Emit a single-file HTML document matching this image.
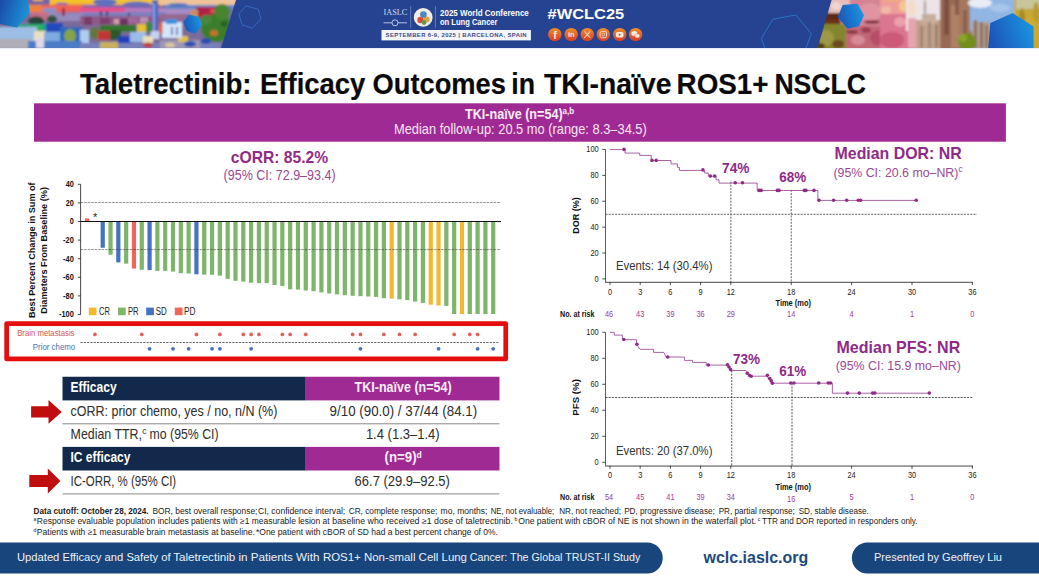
<!DOCTYPE html>
<html lang="en">
<head>
<meta charset="utf-8">
<title>Taletrectinib: Efficacy Outcomes in TKI-naïve ROS1+ NSCLC</title>
<style>
html,body{margin:0;padding:0;background:#fff;}
body{width:1039px;height:585px;overflow:hidden;font-family:'Liberation Sans', Arial, sans-serif;}
svg{display:block;font-family:'Liberation Sans', Arial, sans-serif;}
</style>
</head>
<body>
<svg width="1039" height="585" viewBox="0 0 1039 585">
<defs><linearGradient id="hexg" x1="0" y1="0" x2="1" y2="0.3"><stop offset="0" stop-color="#1a43a4"/><stop offset="1" stop-color="#1b92d6"/></linearGradient><linearGradient id="hexg2" x1="0" y1="0.6" x2="1" y2="0.3"><stop offset="0" stop-color="#1c54b8"/><stop offset="1" stop-color="#1a97e2"/></linearGradient><linearGradient id="icong" x1="0" y1="0" x2="0" y2="1"><stop offset="0" stop-color="#f0902c"/><stop offset="1" stop-color="#d43a2a"/></linearGradient><clipPath id="clipL"><polygon points="0,0 236,0 221,48 0,48"/></clipPath><clipPath id="clipR"><polygon points="831.6,0 1039,0 1039,48 817.6,48"/></clipPath><filter id="blur2" filterUnits="userSpaceOnUse" x="-20" y="-20" width="1100" height="100"><feGaussianBlur stdDeviation="1.3"/></filter></defs>
<rect x="0" y="0" width="1039" height="48.1" fill="#254391"/>
<g clip-path="url(#clipL)"><g filter="url(#blur2)">
<rect x="-5" y="-5" width="250" height="60" fill="#7c6a98"/>
<rect x="25" y="-5" width="30" height="8" fill="#7a62a8"/>
<rect x="33" y="-3" width="10" height="4" fill="#e8b040"/>
<rect x="50" y="-5" width="112" height="10" fill="#f5c428"/>
<rect x="52" y="3" width="110" height="3" fill="#f0a838"/>
<rect x="160" y="-5" width="80" height="10" fill="#eec39a"/>
<ellipse cx="105" cy="2" rx="12" ry="3.5" fill="#5a72c0"/>
<ellipse cx="137" cy="4.5" rx="14" ry="3" fill="#5f6fbc"/>
<rect x="80" y="5" width="80" height="2.5" fill="#7466b4"/>
<ellipse cx="62" cy="4" rx="6" ry="1.6" fill="#8a6ab0"/>
<rect x="165" y="5" width="70" height="4" fill="#6484c8"/>
<ellipse cx="178" cy="5" rx="10" ry="2" fill="#5676c0"/>
<rect x="28" y="5" width="55" height="7" fill="#ef6458"/>
<rect x="28" y="5" width="14" height="7" fill="#f08040"/>
<rect x="80" y="7.5" width="50" height="4.5" fill="#e8508c"/>
<rect x="125" y="8" width="40" height="4" fill="#b478be"/>
<rect x="160" y="9" width="40" height="5" fill="#a98cc6"/>
<rect x="80" y="12" width="85" height="4" fill="#7c80c0"/>
<rect x="43" y="8" width="13" height="6" fill="#8492c8"/>
<rect x="100" y="11" width="2" height="5" fill="#4a3a70"/>
<rect x="106" y="11" width="2" height="5" fill="#4a3a70"/>
<rect x="128" y="13" width="2" height="3" fill="#4a3a70"/>
<rect x="30" y="12" width="20" height="8" fill="#c47088"/>
<rect x="48" y="13" width="35" height="8" fill="#948abc"/>
<rect x="62" y="8" width="3" height="8" fill="#a03048"/>
<rect x="80" y="16" width="85" height="9" fill="#905a88"/>
<rect x="100" y="18" width="10" height="6" fill="#7c3c70"/>
<rect x="128" y="17" width="10" height="6" fill="#a06898"/>
<rect x="160" y="14" width="25" height="6" fill="#96688e"/>
<rect x="84" y="17" width="8" height="8" fill="#7a3a68"/>
<rect x="114" y="19" width="5" height="5" fill="#d0a0a8"/>
<rect x="120" y="19" width="8" height="6" fill="#6a3060"/>
<rect x="140" y="17" width="8" height="6" fill="#b890b0"/>
<rect x="196" y="7" width="30" height="11" fill="#b02444"/>
<rect x="190" y="10" width="8" height="8" fill="#c89060"/>
<rect x="210" y="9" width="8" height="4" fill="#d84858"/>
<rect x="152" y="0" width="6" height="34" fill="#4a64c0"/>
<rect x="150.5" y="31" width="9" height="8" fill="#c4d2f0"/>
<rect x="153" y="3" width="2" height="28" fill="#8aa0e0"/>
<ellipse cx="36" cy="21" rx="8" ry="4.5" fill="#26443a"/>
<ellipse cx="52" cy="19" rx="5" ry="3.5" fill="#2a5238"/>
<rect x="100" y="25" width="36" height="7" fill="#34742f"/>
<rect x="137" y="24" width="9" height="8" fill="#e6c034"/>
<rect x="146" y="22" width="6" height="10" fill="#46863c"/>
<ellipse cx="95" cy="33" rx="5" ry="6" fill="#62783a"/>
<rect x="110" y="30" width="11" height="10" fill="#2a582a"/>
<rect x="98" y="31" width="12" height="9" fill="#c23434"/>
<ellipse cx="217" cy="28" rx="16" ry="14" fill="#3a7e2c"/>
<ellipse cx="206" cy="20" rx="6" ry="5" fill="#46863a"/>
<ellipse cx="222" cy="12" rx="8" ry="8" fill="#46862e"/>
<ellipse cx="214" cy="33" rx="4" ry="3" fill="#c87030"/>
<ellipse cx="224" cy="24" rx="3" ry="3" fill="#2a6020"/>
<rect x="14" y="24" width="32" height="8" fill="#1ea08a"/>
<rect x="28" y="25" width="14" height="6" fill="#34b058"/>
<rect x="46" y="23" width="17" height="9" fill="#2048bc"/>
<rect x="-5" y="27" width="42" height="14" fill="#9cbee6"/>
<rect x="34" y="31" width="12" height="12" fill="#e8e0c0"/>
<rect x="44" y="32" width="18" height="16" fill="#7eaae0"/>
<rect x="60" y="27" width="22" height="21" fill="#2f68be"/>
<ellipse cx="70" cy="36" rx="6" ry="7" fill="#86a444"/>
<rect x="80" y="30" width="9" height="14" fill="#b0ccee"/>
<rect x="-5" y="39" width="36" height="10" fill="#b0aeb6"/>
<rect x="28" y="41" width="54" height="8" fill="#4c7cc6"/>
<rect x="36" y="38" width="8" height="10" fill="#e0d8e8"/>
<rect x="118" y="36" width="16" height="13" fill="#2040bc"/>
<rect x="130" y="32" width="16" height="10" fill="#9cbce8"/>
<rect x="143" y="36" width="10" height="8" fill="#e8e0b8"/>
<rect x="80" y="43" width="140" height="6" fill="#7880bc"/>
<rect x="100" y="42" width="18" height="7" fill="#c8b060"/>
<rect x="160" y="40" width="40" height="9" fill="#9c98b4"/>
<ellipse cx="206" cy="41" rx="5" ry="3" fill="#2c4cb4"/>
<rect x="178" y="36" width="10" height="6" fill="#e0c048"/>
<ellipse cx="190" cy="44" rx="6" ry="3" fill="#3050b0"/>
<ellipse cx="170" cy="45" rx="5" ry="2.5" fill="#d8c8a0"/>
<ellipse cx="148" cy="45" rx="5" ry="2.5" fill="#c04040"/>
<rect x="162" y="22" width="20" height="16" fill="#d6e4f8"/>
<rect x="166" y="19" width="11" height="5" fill="#3492e0"/>
<rect x="159" y="23" width="3.5" height="10" fill="#e06838"/>
<rect x="171" y="27" width="2" height="8" fill="#6080c0"/>
<rect x="176" y="27" width="2" height="8" fill="#6080c0"/>
</g></g>
<polygon points="-2,-2 27,-2 29.7,9.5 29,14 17,27.6 -2,23.6" fill="url(#hexg)"/>
<polygon points="189.4,15 198.7,17.3 201.8,24.8 195.2,33.5 186.8,30.6 183.7,21.9" fill="url(#hexg2)" stroke="url(#hexg2)" stroke-width="0.8" stroke-linejoin="round"/>
<polygon points="246,5.8 258.2,9.2 261,19 252.4,28.3 242,24.8 238.9,13.9" fill="none" stroke="#3a72c8" stroke-width="0.8" stroke-linejoin="round"/>
<g clip-path="url(#clipR)"><g filter="url(#blur2)">
<rect x="810" y="-5" width="240" height="60" fill="#d48294"/>
<rect x="828" y="-5" width="22" height="18" fill="#e6bcbc"/>
<ellipse cx="836" cy="6" rx="5" ry="4" fill="#f0d4d0"/>
<rect x="822" y="13" width="18" height="11" fill="#5c2a14"/>
<ellipse cx="832" cy="22" rx="9" ry="3" fill="#6a3018"/>
<rect x="814" y="24" width="32" height="26" fill="#84862f"/>
<ellipse cx="826" cy="38" rx="8" ry="8" fill="#9c9844"/>
<ellipse cx="838" cy="44" rx="6" ry="4" fill="#6a4a20"/>
<ellipse cx="820" cy="46" rx="5" ry="3" fill="#5a3a18"/>
<rect x="846" y="26" width="40" height="24" fill="#c26676"/>
<ellipse cx="870" cy="12" rx="12" ry="9" fill="#e094a2"/>
<ellipse cx="880" cy="38" rx="10" ry="8" fill="#b64e66"/>
<ellipse cx="858" cy="40" rx="7" ry="5" fill="#d88a98"/>
<ellipse cx="866" cy="30" rx="5" ry="3" fill="#9c3c52"/>
<ellipse cx="872" cy="22" rx="8" ry="2" fill="#8a3a48"/>
<ellipse cx="852" cy="32" rx="6" ry="1.6" fill="#7a3040"/>
<ellipse cx="894" cy="30" rx="8" ry="1.8" fill="#a04058"/>
<rect x="880" y="-5" width="28" height="20" fill="#ee9e98"/>
<rect x="884" y="-5" width="16" height="6" fill="#f0b070"/>
<rect x="880" y="14" width="30" height="36" fill="#da768e"/>
<ellipse cx="892" cy="40" rx="12" ry="8" fill="#ca5a76"/>
<ellipse cx="900" cy="22" rx="6" ry="5" fill="#eca0aa"/>
<ellipse cx="886" cy="10" rx="5" ry="4" fill="#f4b8a8"/>
<ellipse cx="904" cy="6" rx="5" ry="6" fill="#f2c690"/>
<rect x="906" y="-5" width="36" height="36" fill="#ece4e6"/>
<rect x="908" y="18" width="8" height="30" fill="#e6a4ae"/>
<ellipse cx="912" cy="8" rx="4" ry="8" fill="#f4dcc8"/>
<rect x="916" y="20" width="26" height="30" fill="#c2a28c"/>
<rect x="922" y="14" width="14" height="10" fill="#c8ae9c"/>
<rect x="920" y="26" width="3" height="22" fill="#a08470"/>
<rect x="928" y="22" width="3" height="26" fill="#a48874"/>
<rect x="935" y="24" width="3" height="24" fill="#9c806c"/>
<ellipse cx="925" cy="8" rx="1.2" ry="9" fill="#b0a0a0"/>
<rect x="940" y="-5" width="20" height="55" fill="#986a54"/>
<rect x="944" y="-5" width="5" height="40" fill="#7c5040"/>
<rect x="951" y="5" width="8" height="43" fill="#ae8266"/>
<rect x="955" y="-5" width="4" height="20" fill="#8a5c48"/>
<rect x="959" y="-5" width="13" height="55" fill="#a67860"/>
<rect x="963" y="10" width="4" height="38" fill="#8c604c"/>
<rect x="970" y="-5" width="50" height="36" fill="#92b6e4"/>
<ellipse cx="980" cy="3" rx="12" ry="5" fill="#e8ecf4"/>
<ellipse cx="1000" cy="8" rx="10" ry="4" fill="#a8c6ea"/>
<rect x="972" y="22" width="18" height="28" fill="#aea094"/>
<rect x="974" y="20" width="3" height="28" fill="#92705e"/>
<rect x="980" y="22" width="3" height="26" fill="#92705e"/>
<rect x="985" y="25" width="3" height="23" fill="#987664"/>
<ellipse cx="967" cy="42" rx="9" ry="9" fill="#728e1c"/>
<ellipse cx="963" cy="38" rx="4" ry="4" fill="#8aa62c"/>
<rect x="1014" y="-5" width="30" height="60" fill="#c6a836"/>
<rect x="1016" y="-5" width="24" height="14" fill="#c8c49c"/>
<ellipse cx="1030" cy="30" rx="8" ry="14" fill="#d0a830"/>
<ellipse cx="1022" cy="20" rx="3" ry="12" fill="#a88a28"/>
<ellipse cx="1036" cy="12" rx="3" ry="10" fill="#b89a30"/>
</g></g>
<polygon points="842.7,4.9 857.4,3.7 864,15.2 859,26.3 847.6,28.7 837.7,17.2" fill="url(#hexg2)"/>
<polygon points="1012.7,13.0 1033.6,26.6 1033.6,48.1 988.2,48.1 990.3,23.0" fill="url(#hexg2)"/>
<polyline points="765,48 761.3,38.5 772.8,19.2 795.9,15 811.3,33.7 806,48" fill="none" stroke="#2f86dc" stroke-width="0.7"/>
<text x="383.50" y="15.40" font-size="7.6" fill="#d5dbee" textLength="23.90" lengthAdjust="spacingAndGlyphs" font-family="'Liberation Serif', serif">IASLC</text>
<line x1="383.5" y1="22.8" x2="407" y2="22.8" stroke="#c9d2ea" stroke-width="0.9"/>
<circle cx="395" cy="22.8" r="3" fill="#254391" stroke="#c9d2ea" stroke-width="0.9"/>
<line x1="410.7" y1="6.2" x2="410.7" y2="27.7" stroke="#8fa0d0" stroke-width="0.6"/>
<circle cx="423.2" cy="17.4" r="9.4" fill="#f3ece6"/>
<circle cx="420.5" cy="20" r="3.2" fill="#d8503a"/><circle cx="426.5" cy="19.5" r="3" fill="#d9a63a"/><circle cx="423.4" cy="14.5" r="3.3" fill="#4f86c4"/><circle cx="424" cy="22.5" r="2.4" fill="#5a9a58"/>
<line x1="435.4" y1="6.2" x2="435.4" y2="27.7" stroke="#8fa0d0" stroke-width="0.6"/>
<text x="440.00" y="15.90" font-size="8.2" fill="#fff" font-weight="bold" textLength="88.80" lengthAdjust="spacingAndGlyphs">2025 World Conference</text>
<text x="440.00" y="24.70" font-size="8.2" fill="#fff" font-weight="bold" textLength="57.50" lengthAdjust="spacingAndGlyphs">on Lung Cancer</text>
<rect x="381.5" y="30" width="149.4" height="10.4" fill="#f4f5f9"/>
<text x="385.6" y="37.4" font-size="5.9" font-weight="bold" fill="#3a4c86" textLength="141" lengthAdjust="spacing">SEPTEMBER 6-9, 2025 | BARCELONA, SPAIN</text>
<text x="547.60" y="19.20" font-size="14.6" fill="#fff" font-weight="bold" textLength="76.60" lengthAdjust="spacingAndGlyphs">#WCLC25</text>
<circle cx="554.8" cy="34.6" r="6.7" fill="url(#icong)"/>
<circle cx="571.2" cy="34.6" r="6.7" fill="url(#icong)"/>
<circle cx="587.3" cy="34.6" r="6.7" fill="url(#icong)"/>
<circle cx="603.3" cy="34.6" r="6.7" fill="url(#icong)"/>
<circle cx="619.7" cy="34.6" r="6.7" fill="url(#icong)"/>
<circle cx="635.6" cy="34.6" r="6.7" fill="url(#icong)"/>
<text x="554.90" y="38.60" font-size="10.5" fill="#fbe9df" font-weight="bold" text-anchor="middle">f</text>
<text x="571.20" y="37.30" font-size="7.4" fill="#fbe9df" font-weight="bold" text-anchor="middle">in</text>
<path d="M584.4 31.4 L590.2 37.8 M590.2 31.4 L584.4 37.8" stroke="#f6cdb6" stroke-width="1.1" fill="none"/>
<rect x="600.1" y="31.4" width="6.4" height="6.4" rx="1.6" fill="none" stroke="#f8d6c3" stroke-width="1"/><circle cx="603.3" cy="34.6" r="1.4" fill="none" stroke="#f8d6c3" stroke-width="0.8"/>
<rect x="615.9" y="32" width="7.6" height="5.4" rx="1.6" fill="#fbe9df"/><path d="M618.8 33.4 L621.2 34.7 L618.8 36 Z" fill="#d9482b"/>
<ellipse cx="634.3" cy="33.6" rx="3" ry="2.5" fill="#fbe9df"/><ellipse cx="637.3" cy="35.9" rx="2.6" ry="2.1" fill="#fbe9df" stroke="#de5a2b" stroke-width="0.4"/>
<text y="94.3" font-size="30.3" font-weight="bold" fill="#0a0a0a" stroke="#0a0a0a" stroke-width="0.2"><tspan x="79.9" textLength="171.7" lengthAdjust="spacingAndGlyphs">Taletrectinib:</tspan> <tspan x="260.0" textLength="105.4" lengthAdjust="spacingAndGlyphs">Efficacy</tspan> <tspan x="372.6" textLength="133.2" lengthAdjust="spacingAndGlyphs">Outcomes</tspan> <tspan x="511.2" textLength="23.8" lengthAdjust="spacingAndGlyphs">in</tspan> <tspan x="544.0" textLength="127.4" lengthAdjust="spacingAndGlyphs">TKI-naïve</tspan> <tspan x="676.6" textLength="92.0" lengthAdjust="spacingAndGlyphs">ROS1+</tspan> <tspan x="774.4" textLength="91.6" lengthAdjust="spacingAndGlyphs">NSCLC</tspan></text>
<rect x="34" y="103.3" width="971.9" height="38.4" fill="#A02A93"/>
<text x="465.0" y="118.7" font-size="13.9" font-weight="bold" fill="#fbeefa"><tspan textLength="97.6" lengthAdjust="spacingAndGlyphs">TKI-naïve (n=54)</tspan><tspan dy="-4.4" font-size="8.3" textLength="11.6" lengthAdjust="spacingAndGlyphs">a,b</tspan></text>
<text x="394.00" y="134.40" font-size="14.1" fill="#f7e6f5" textLength="252.80" lengthAdjust="spacingAndGlyphs">Median follow-up: 20.5 mo (range: 8.3–34.5)</text>
<text x="230.80" y="162.65" font-size="16.9" fill="#8F2A88" font-weight="bold" textLength="97.40" lengthAdjust="spacingAndGlyphs">cORR: 85.2%</text>
<text x="223.60" y="180.30" font-size="14.4" fill="#9A4A96" textLength="112.00" lengthAdjust="spacingAndGlyphs">(95% CI: 72.9–93.4)</text>
<text transform="translate(34.6,250.2) rotate(-90)" text-anchor="middle" font-size="9.3" font-weight="bold" fill="#111" textLength="135.7" lengthAdjust="spacingAndGlyphs">Best Percent Change in Sum of</text>
<text transform="translate(47.4,250.4) rotate(-90)" text-anchor="middle" font-size="9.3" font-weight="bold" fill="#111" textLength="126.8" lengthAdjust="spacingAndGlyphs">Diameters From Baseline (%)</text>
<line x1="77.8" y1="184.30" x2="80.6" y2="184.30" stroke="#1a1a1a" stroke-width="0.8"/>
<text x="73.80" y="187.20" font-size="8.3" fill="#111" font-weight="bold" text-anchor="end" textLength="8.10" lengthAdjust="spacingAndGlyphs">40</text>
<line x1="77.8" y1="202.90" x2="80.6" y2="202.90" stroke="#1a1a1a" stroke-width="0.8"/>
<text x="73.80" y="205.80" font-size="8.3" fill="#111" font-weight="bold" text-anchor="end" textLength="8.10" lengthAdjust="spacingAndGlyphs">20</text>
<line x1="77.8" y1="221.50" x2="80.6" y2="221.50" stroke="#1a1a1a" stroke-width="0.8"/>
<text x="73.80" y="224.40" font-size="8.3" fill="#111" font-weight="bold" text-anchor="end" textLength="4.05" lengthAdjust="spacingAndGlyphs">0</text>
<line x1="77.8" y1="240.10" x2="80.6" y2="240.10" stroke="#1a1a1a" stroke-width="0.8"/>
<text x="73.80" y="243.00" font-size="8.3" fill="#111" font-weight="bold" text-anchor="end" textLength="10.70" lengthAdjust="spacingAndGlyphs">-20</text>
<line x1="77.8" y1="258.70" x2="80.6" y2="258.70" stroke="#1a1a1a" stroke-width="0.8"/>
<text x="73.80" y="261.60" font-size="8.3" fill="#111" font-weight="bold" text-anchor="end" textLength="10.70" lengthAdjust="spacingAndGlyphs">-40</text>
<line x1="77.8" y1="277.30" x2="80.6" y2="277.30" stroke="#1a1a1a" stroke-width="0.8"/>
<text x="73.80" y="280.20" font-size="8.3" fill="#111" font-weight="bold" text-anchor="end" textLength="10.70" lengthAdjust="spacingAndGlyphs">-60</text>
<line x1="77.8" y1="295.90" x2="80.6" y2="295.90" stroke="#1a1a1a" stroke-width="0.8"/>
<text x="73.80" y="298.80" font-size="8.3" fill="#111" font-weight="bold" text-anchor="end" textLength="10.70" lengthAdjust="spacingAndGlyphs">-80</text>
<line x1="77.8" y1="314.50" x2="80.6" y2="314.50" stroke="#1a1a1a" stroke-width="0.8"/>
<text x="73.80" y="317.40" font-size="8.3" fill="#111" font-weight="bold" text-anchor="end" textLength="14.75" lengthAdjust="spacingAndGlyphs">-100</text>
<line x1="80.6" y1="184.30" x2="80.6" y2="314.50" stroke="#1a1a1a" stroke-width="0.8"/>
<rect x="85.00" y="218.4" width="4.2" height="3.10" fill="#F0645A"/>
<rect x="100.62" y="221.50" width="4.2" height="26.25" fill="#4472C4"/>
<rect x="108.43" y="221.50" width="4.2" height="33.20" fill="#7DB56B"/>
<rect x="116.24" y="221.50" width="4.2" height="40.90" fill="#4472C4"/>
<rect x="124.05" y="221.50" width="4.2" height="42.10" fill="#7DB56B"/>
<rect x="131.86" y="221.50" width="4.2" height="47.05" fill="#F0645A"/>
<rect x="139.67" y="221.50" width="4.2" height="48.30" fill="#7DB56B"/>
<rect x="147.48" y="221.50" width="4.2" height="48.60" fill="#4472C4"/>
<rect x="155.29" y="221.50" width="4.2" height="49.40" fill="#7DB56B"/>
<rect x="163.10" y="221.50" width="4.2" height="49.40" fill="#7DB56B"/>
<rect x="170.91" y="221.50" width="4.2" height="50.10" fill="#7DB56B"/>
<rect x="178.72" y="221.50" width="4.2" height="51.70" fill="#7DB56B"/>
<rect x="186.53" y="221.50" width="4.2" height="52.00" fill="#7DB56B"/>
<rect x="194.34" y="221.50" width="4.2" height="52.75" fill="#4472C4"/>
<rect x="202.15" y="221.50" width="4.2" height="53.20" fill="#7DB56B"/>
<rect x="209.96" y="221.50" width="4.2" height="53.20" fill="#7DB56B"/>
<rect x="217.77" y="221.50" width="4.2" height="54.10" fill="#7DB56B"/>
<rect x="225.58" y="221.50" width="4.2" height="57.30" fill="#7DB56B"/>
<rect x="233.39" y="221.50" width="4.2" height="59.30" fill="#7DB56B"/>
<rect x="241.20" y="221.50" width="4.2" height="60.10" fill="#7DB56B"/>
<rect x="249.01" y="221.50" width="4.2" height="61.20" fill="#7DB56B"/>
<rect x="256.82" y="221.50" width="4.2" height="61.60" fill="#7DB56B"/>
<rect x="264.63" y="221.50" width="4.2" height="61.60" fill="#7DB56B"/>
<rect x="272.44" y="221.50" width="4.2" height="63.50" fill="#7DB56B"/>
<rect x="280.25" y="221.50" width="4.2" height="64.40" fill="#7DB56B"/>
<rect x="288.06" y="221.50" width="4.2" height="67.80" fill="#7DB56B"/>
<rect x="295.87" y="221.50" width="4.2" height="68.10" fill="#7DB56B"/>
<rect x="303.68" y="221.50" width="4.2" height="69.00" fill="#7DB56B"/>
<rect x="311.49" y="221.50" width="4.2" height="69.70" fill="#7DB56B"/>
<rect x="319.30" y="221.50" width="4.2" height="70.90" fill="#7DB56B"/>
<rect x="327.11" y="221.50" width="4.2" height="72.00" fill="#7DB56B"/>
<rect x="334.92" y="221.50" width="4.2" height="72.90" fill="#7DB56B"/>
<rect x="342.73" y="221.50" width="4.2" height="73.70" fill="#7DB56B"/>
<rect x="350.54" y="221.50" width="4.2" height="74.30" fill="#7DB56B"/>
<rect x="358.35" y="221.50" width="4.2" height="74.70" fill="#7DB56B"/>
<rect x="366.16" y="221.50" width="4.2" height="75.00" fill="#7DB56B"/>
<rect x="373.97" y="221.50" width="4.2" height="75.40" fill="#7DB56B"/>
<rect x="381.78" y="221.50" width="4.2" height="76.70" fill="#7DB56B"/>
<rect x="389.59" y="221.50" width="4.2" height="77.10" fill="#F3B82D"/>
<rect x="397.40" y="221.50" width="4.2" height="77.80" fill="#7DB56B"/>
<rect x="405.21" y="221.50" width="4.2" height="78.60" fill="#7DB56B"/>
<rect x="413.02" y="221.50" width="4.2" height="80.10" fill="#7DB56B"/>
<rect x="420.83" y="221.50" width="4.2" height="81.40" fill="#7DB56B"/>
<rect x="428.64" y="221.50" width="4.2" height="83.20" fill="#F3B82D"/>
<rect x="436.45" y="221.50" width="4.2" height="84.00" fill="#F3B82D"/>
<rect x="444.26" y="221.50" width="4.2" height="84.40" fill="#7DB56B"/>
<rect x="452.07" y="221.50" width="4.2" height="92.50" fill="#7DB56B"/>
<rect x="459.88" y="221.50" width="4.2" height="92.50" fill="#F3B82D"/>
<rect x="467.69" y="221.50" width="4.2" height="92.50" fill="#7DB56B"/>
<rect x="475.50" y="221.50" width="4.2" height="92.50" fill="#7DB56B"/>
<rect x="483.31" y="221.50" width="4.2" height="92.50" fill="#7DB56B"/>
<rect x="491.12" y="221.50" width="4.2" height="92.50" fill="#7DB56B"/>
<line x1="80.6" y1="221.50" x2="501" y2="221.50" stroke="#111" stroke-width="1"/>
<line x1="80.6" y1="202.5" x2="501" y2="202.5" stroke="#3a3a3a" stroke-width="0.55" stroke-dasharray="2.6,0.9"/>
<line x1="80.6" y1="249.55" x2="501" y2="249.55" stroke="#3a3a3a" stroke-width="0.55" stroke-dasharray="2.6,0.9"/>
<text x="95.20" y="220.60" font-size="11" fill="#222" text-anchor="middle">*</text>
<rect x="88.8" y="307.6" width="7.7" height="7.6" fill="#F3B82D"/>
<text x="99.00" y="314.60" font-size="10.2" fill="#222" textLength="10.90" lengthAdjust="spacingAndGlyphs">CR</text>
<rect x="118.0" y="307.6" width="7.7" height="7.6" fill="#7DB56B"/>
<text x="127.90" y="314.60" font-size="10.2" fill="#222" textLength="10.70" lengthAdjust="spacingAndGlyphs">PR</text>
<rect x="146.2" y="307.6" width="7.7" height="7.6" fill="#4472C4"/>
<text x="155.80" y="314.60" font-size="10.2" fill="#222" textLength="11.00" lengthAdjust="spacingAndGlyphs">SD</text>
<rect x="174.8" y="307.6" width="7.7" height="7.6" fill="#F0645A"/>
<text x="184.00" y="314.60" font-size="10.2" fill="#222" textLength="11.50" lengthAdjust="spacingAndGlyphs">PD</text>
<rect x="6.65" y="323.6" width="499.1" height="35.3" fill="none" stroke="#E60D0D" stroke-width="4.7" stroke-linejoin="round"/>
<text x="17.20" y="335.70" font-size="8.4" fill="#D9544D" textLength="57.30" lengthAdjust="spacingAndGlyphs">Brain metastasis</text>
<text x="32.80" y="350.00" font-size="8.4" fill="#4A70B8" textLength="42.40" lengthAdjust="spacingAndGlyphs">Prior chemo</text>
<line x1="80.5" y1="342.5" x2="499.5" y2="342.5" stroke="#222" stroke-width="0.7" stroke-dasharray="2.2,1.1"/>
<circle cx="94.91" cy="334.4" r="1.9" fill="#E0645E"/>
<circle cx="141.77" cy="334.4" r="1.9" fill="#E0645E"/>
<circle cx="196.44" cy="334.4" r="1.9" fill="#E0645E"/>
<circle cx="219.87" cy="334.4" r="1.9" fill="#E0645E"/>
<circle cx="243.30" cy="334.4" r="1.9" fill="#E0645E"/>
<circle cx="251.11" cy="334.4" r="1.9" fill="#E0645E"/>
<circle cx="258.92" cy="334.4" r="1.9" fill="#E0645E"/>
<circle cx="282.35" cy="334.4" r="1.9" fill="#E0645E"/>
<circle cx="290.16" cy="334.4" r="1.9" fill="#E0645E"/>
<circle cx="305.78" cy="334.4" r="1.9" fill="#E0645E"/>
<circle cx="352.64" cy="334.4" r="1.9" fill="#E0645E"/>
<circle cx="360.45" cy="334.4" r="1.9" fill="#E0645E"/>
<circle cx="383.88" cy="334.4" r="1.9" fill="#E0645E"/>
<circle cx="399.50" cy="334.4" r="1.9" fill="#E0645E"/>
<circle cx="415.12" cy="334.4" r="1.9" fill="#E0645E"/>
<circle cx="454.17" cy="334.4" r="1.9" fill="#E0645E"/>
<circle cx="469.79" cy="334.4" r="1.9" fill="#E0645E"/>
<circle cx="477.60" cy="334.4" r="1.9" fill="#E0645E"/>
<circle cx="149.58" cy="348.8" r="1.9" fill="#4A70BC"/>
<circle cx="173.01" cy="348.8" r="1.9" fill="#4A70BC"/>
<circle cx="188.63" cy="348.8" r="1.9" fill="#4A70BC"/>
<circle cx="212.06" cy="348.8" r="1.9" fill="#4A70BC"/>
<circle cx="219.87" cy="348.8" r="1.9" fill="#4A70BC"/>
<circle cx="251.11" cy="348.8" r="1.9" fill="#4A70BC"/>
<circle cx="360.45" cy="348.8" r="1.9" fill="#4A70BC"/>
<circle cx="438.55" cy="348.8" r="1.9" fill="#4A70BC"/>
<circle cx="477.60" cy="348.8" r="1.9" fill="#4A70BC"/>
<circle cx="493.22" cy="348.8" r="1.9" fill="#4A70BC"/>
<rect x="62.5" y="376.75" width="243.25" height="23.649999999999977" fill="#12294B"/>
<rect x="305.75" y="376.75" width="193.75" height="23.649999999999977" fill="#A02A93"/>
<rect x="62.5" y="446.9" width="243.25" height="23.600000000000023" fill="#12294B"/>
<rect x="305.75" y="446.9" width="193.75" height="23.600000000000023" fill="#A02A93"/>
<line x1="62.5" y1="423.8" x2="499.5" y2="423.8" stroke="#7a7a7a" stroke-width="0.9"/>
<line x1="62.5" y1="493.9" x2="499.5" y2="493.9" stroke="#7a7a7a" stroke-width="0.9"/>
<text y="392.2" font-size="14.3" fill="#fff" font-weight="bold"><tspan x="70.50" textLength="46.10" lengthAdjust="spacingAndGlyphs">Efficacy</tspan></text>
<text y="415.6" font-size="14.1" fill="#2d2d2d"><tspan x="70.50" textLength="206.90" lengthAdjust="spacingAndGlyphs">cORR: prior chemo, yes / no, n/N (%)</tspan></text>
<text y="439.2" font-size="14.1" fill="#2d2d2d"><tspan x="70.60" textLength="71.40" lengthAdjust="spacingAndGlyphs">Median TTR,</tspan><tspan x="142.3" dy="-4.8" font-size="8.6">c</tspan><tspan dy="4.8" font-size="1"> </tspan><tspan x="149.60" textLength="69.00" lengthAdjust="spacingAndGlyphs">mo (95% CI)</tspan></text>
<text y="462.4" font-size="14.3" fill="#fff" font-weight="bold"><tspan x="70.50" textLength="59.90" lengthAdjust="spacingAndGlyphs">IC efficacy</tspan></text>
<text y="486.0" font-size="14.1" fill="#2d2d2d"><tspan x="70.50" textLength="105.70" lengthAdjust="spacingAndGlyphs">IC-ORR, % (95% CI)</tspan></text>
<text y="392.2" font-size="14.3" fill="#fbeefa" font-weight="bold"><tspan x="354.60" textLength="97.00" lengthAdjust="spacingAndGlyphs">TKI-naïve (n=54)</tspan></text>
<text y="415.6" font-size="14.1" fill="#2d2d2d"><tspan x="329.60" textLength="147.60" lengthAdjust="spacingAndGlyphs">9/10 (90.0) / 37/44 (84.1)</tspan></text>
<text y="439.2" font-size="14.1" fill="#2d2d2d"><tspan x="365.90" textLength="73.70" lengthAdjust="spacingAndGlyphs">1.4 (1.3–1.4)</tspan></text>
<text y="462.4" font-size="14.3" fill="#fbeefa" font-weight="bold"><tspan x="384.60" textLength="32.00" lengthAdjust="spacingAndGlyphs">(n=9)</tspan><tspan x="416.6" dy="-4.8" font-size="8.6">d</tspan><tspan dy="4.8" font-size="1"> </tspan></text>
<text y="486.0" font-size="14.1" fill="#2d2d2d"><tspan x="354.60" textLength="95.30" lengthAdjust="spacingAndGlyphs">66.7 (29.9–92.5)</tspan></text>
<polygon points="31.1,406.2 48.5,406.2 48.5,400.0 61.7,411.9 48.5,423.79999999999995 48.5,417.59999999999997 31.1,417.59999999999997" fill="#C00D0D"/>
<polygon points="29.3,474.9 47.8,474.9 47.8,468.6 60.4,481.0 47.8,493.4 47.8,487.1 29.3,487.1" fill="#C00D0D"/>
<line x1="605.5" y1="149.5" x2="605.5" y2="282.0" stroke="#333" stroke-width="0.8"/>
<line x1="605.1" y1="282.3" x2="972.8" y2="282.3" stroke="#333" stroke-width="0.9"/>
<line x1="602.3" y1="149.50" x2="605.5" y2="149.50" stroke="#222" stroke-width="0.8"/>
<text x="598.60" y="152.40" font-size="8.7" fill="#222" text-anchor="end" textLength="12.30" lengthAdjust="spacingAndGlyphs">100</text>
<line x1="602.3" y1="175.38" x2="605.5" y2="175.38" stroke="#222" stroke-width="0.8"/>
<text x="598.60" y="178.28" font-size="8.7" fill="#222" text-anchor="end" textLength="8.20" lengthAdjust="spacingAndGlyphs">80</text>
<line x1="602.3" y1="201.26" x2="605.5" y2="201.26" stroke="#222" stroke-width="0.8"/>
<text x="598.60" y="204.16" font-size="8.7" fill="#222" text-anchor="end" textLength="8.20" lengthAdjust="spacingAndGlyphs">60</text>
<line x1="602.3" y1="227.14" x2="605.5" y2="227.14" stroke="#222" stroke-width="0.8"/>
<text x="598.60" y="230.04" font-size="8.7" fill="#222" text-anchor="end" textLength="8.20" lengthAdjust="spacingAndGlyphs">40</text>
<line x1="602.3" y1="253.02" x2="605.5" y2="253.02" stroke="#222" stroke-width="0.8"/>
<text x="598.60" y="255.92" font-size="8.7" fill="#222" text-anchor="end" textLength="8.20" lengthAdjust="spacingAndGlyphs">20</text>
<line x1="602.3" y1="278.90" x2="605.5" y2="278.90" stroke="#222" stroke-width="0.8"/>
<text x="598.60" y="281.80" font-size="8.7" fill="#222" text-anchor="end" textLength="4.10" lengthAdjust="spacingAndGlyphs">0</text>
<line x1="610.00" y1="282.0" x2="610.00" y2="285.0" stroke="#222" stroke-width="0.8"/>
<text x="610.00" y="294.70" font-size="8.8" fill="#222" text-anchor="middle" textLength="4.10" lengthAdjust="spacingAndGlyphs">0</text>
<line x1="640.20" y1="282.0" x2="640.20" y2="285.0" stroke="#222" stroke-width="0.8"/>
<text x="640.20" y="294.70" font-size="8.8" fill="#222" text-anchor="middle" textLength="4.10" lengthAdjust="spacingAndGlyphs">3</text>
<line x1="670.40" y1="282.0" x2="670.40" y2="285.0" stroke="#222" stroke-width="0.8"/>
<text x="670.40" y="294.70" font-size="8.8" fill="#222" text-anchor="middle" textLength="4.10" lengthAdjust="spacingAndGlyphs">6</text>
<line x1="700.60" y1="282.0" x2="700.60" y2="285.0" stroke="#222" stroke-width="0.8"/>
<text x="700.60" y="294.70" font-size="8.8" fill="#222" text-anchor="middle" textLength="4.10" lengthAdjust="spacingAndGlyphs">9</text>
<line x1="730.80" y1="282.0" x2="730.80" y2="285.0" stroke="#222" stroke-width="0.8"/>
<text x="730.80" y="294.70" font-size="8.8" fill="#222" text-anchor="middle" textLength="8.20" lengthAdjust="spacingAndGlyphs">12</text>
<line x1="791.21" y1="282.0" x2="791.21" y2="285.0" stroke="#222" stroke-width="0.8"/>
<text x="791.21" y="294.70" font-size="8.8" fill="#222" text-anchor="middle" textLength="8.20" lengthAdjust="spacingAndGlyphs">18</text>
<line x1="851.61" y1="282.0" x2="851.61" y2="285.0" stroke="#222" stroke-width="0.8"/>
<text x="851.61" y="294.70" font-size="8.8" fill="#222" text-anchor="middle" textLength="8.20" lengthAdjust="spacingAndGlyphs">24</text>
<line x1="912.01" y1="282.0" x2="912.01" y2="285.0" stroke="#222" stroke-width="0.8"/>
<text x="912.01" y="294.70" font-size="8.8" fill="#222" text-anchor="middle" textLength="8.20" lengthAdjust="spacingAndGlyphs">30</text>
<line x1="972.41" y1="282.0" x2="972.41" y2="285.0" stroke="#222" stroke-width="0.8"/>
<text x="972.41" y="294.70" font-size="8.8" fill="#222" text-anchor="middle" textLength="8.20" lengthAdjust="spacingAndGlyphs">36</text>
<text x="775.50" y="306.20" font-size="8.7" fill="#111" font-weight="bold" textLength="35.50" lengthAdjust="spacingAndGlyphs">Time (mo)</text>
<text transform="translate(579.4,215.5) rotate(-90)" text-anchor="middle" font-size="9.8" font-weight="bold" fill="#111" textLength="36.5" lengthAdjust="spacingAndGlyphs">DOR (%)</text>
<line x1="605.5" y1="214.3" x2="977" y2="214.3" stroke="#606060" stroke-width="1.0" stroke-dasharray="2,1.2"/>
<line x1="730.9" y1="181.5" x2="730.9" y2="282.0" stroke="#606060" stroke-width="1.0" stroke-dasharray="2,1.2"/>
<line x1="791.2" y1="189.8" x2="791.2" y2="282.0" stroke="#606060" stroke-width="1.0" stroke-dasharray="2,1.2"/>
<path d="M609.9,149.6 H625 V153.1 H639.7 V155.4 H651.2 V160.5 H671 V163.9 H677.4 V167.4 H679.4 V170.4 H704.7 V173.1 H708.3 V176.2 H716 V179.75 H719 V183.1 H757.2 V190.5 H817.9 V200.4 H916.2" fill="none" stroke="#A0509A" stroke-width="0.9"/>
<circle cx="624" cy="149.4" r="1.8" fill="#8E2C88"/>
<circle cx="652" cy="160.4" r="1.8" fill="#8E2C88"/>
<circle cx="656.2" cy="160.4" r="1.8" fill="#8E2C88"/>
<circle cx="702.9" cy="169.9" r="1.8" fill="#8E2C88"/>
<circle cx="710.3" cy="176.1" r="1.8" fill="#8E2C88"/>
<circle cx="714.7" cy="176.1" r="1.8" fill="#8E2C88"/>
<circle cx="735.2" cy="182.7" r="1.8" fill="#8E2C88"/>
<circle cx="742.5" cy="182.7" r="1.8" fill="#8E2C88"/>
<circle cx="759.0" cy="190.4" r="1.8" fill="#8E2C88"/>
<circle cx="761.2" cy="190.4" r="1.8" fill="#8E2C88"/>
<circle cx="777.3" cy="190.4" r="1.8" fill="#8E2C88"/>
<circle cx="779" cy="190.4" r="1.8" fill="#8E2C88"/>
<circle cx="804.3" cy="190.4" r="1.8" fill="#8E2C88"/>
<circle cx="806" cy="190.4" r="1.8" fill="#8E2C88"/>
<circle cx="814" cy="190.4" r="1.8" fill="#8E2C88"/>
<circle cx="819" cy="200.3" r="1.8" fill="#8E2C88"/>
<circle cx="833.6" cy="200.3" r="1.8" fill="#8E2C88"/>
<circle cx="846.7" cy="200.3" r="1.8" fill="#8E2C88"/>
<circle cx="858.3" cy="200.3" r="1.8" fill="#8E2C88"/>
<circle cx="860.6" cy="200.3" r="1.8" fill="#8E2C88"/>
<circle cx="916.2" cy="200.3" r="1.8" fill="#8E2C88"/>
<text x="722.10" y="172.70" font-size="15.0" fill="#8F2A88" font-weight="bold" textLength="27.40" lengthAdjust="spacingAndGlyphs">74%</text>
<text x="779.20" y="181.90" font-size="15.0" fill="#8F2A88" font-weight="bold" textLength="27.00" lengthAdjust="spacingAndGlyphs">68%</text>
<text x="834.60" y="158.60" font-size="16.6" fill="#8F2A88" font-weight="bold" textLength="127.10" lengthAdjust="spacingAndGlyphs">Median DOR: NR</text>
<text x="833.4" y="176.7" font-size="13.6" fill="#9A4A96"><tspan textLength="125" lengthAdjust="spacingAndGlyphs">(95% CI: 20.6 mo–NR)</tspan><tspan dy="-4.4" font-size="8.3">c</tspan></text>
<text x="616.00" y="269.60" font-size="12.9" fill="#333" textLength="96.50" lengthAdjust="spacingAndGlyphs">Events: 14 (30.4%)</text>
<text x="560.00" y="316.60" font-size="8.8" fill="#111" font-weight="bold" textLength="34.50" lengthAdjust="spacingAndGlyphs">No. at risk</text>
<text x="609.00" y="317.30" font-size="8.8" fill="#9B3C94" text-anchor="middle" textLength="8.20" lengthAdjust="spacingAndGlyphs">46</text>
<text x="640.20" y="316.50" font-size="8.8" fill="#9B3C94" text-anchor="middle" textLength="8.20" lengthAdjust="spacingAndGlyphs">43</text>
<text x="670.40" y="316.50" font-size="8.8" fill="#9B3C94" text-anchor="middle" textLength="8.20" lengthAdjust="spacingAndGlyphs">39</text>
<text x="700.60" y="316.50" font-size="8.8" fill="#9B3C94" text-anchor="middle" textLength="8.20" lengthAdjust="spacingAndGlyphs">36</text>
<text x="730.80" y="317.30" font-size="8.8" fill="#9B3C94" text-anchor="middle" textLength="8.20" lengthAdjust="spacingAndGlyphs">29</text>
<text x="791.21" y="317.30" font-size="8.8" fill="#9B3C94" text-anchor="middle" textLength="8.20" lengthAdjust="spacingAndGlyphs">14</text>
<text x="851.61" y="317.30" font-size="8.8" fill="#9B3C94" text-anchor="middle" textLength="4.10" lengthAdjust="spacingAndGlyphs">4</text>
<text x="912.01" y="317.30" font-size="8.8" fill="#9B3C94" text-anchor="middle" textLength="4.10" lengthAdjust="spacingAndGlyphs">1</text>
<text x="972.41" y="317.30" font-size="8.8" fill="#9B3C94" text-anchor="middle" textLength="4.10" lengthAdjust="spacingAndGlyphs">0</text>
<line x1="605.5" y1="332.3" x2="605.5" y2="465.75" stroke="#333" stroke-width="0.8"/>
<line x1="605.1" y1="466.05" x2="972.8" y2="466.05" stroke="#333" stroke-width="0.9"/>
<line x1="602.3" y1="332.30" x2="605.5" y2="332.30" stroke="#222" stroke-width="0.8"/>
<text x="598.60" y="335.20" font-size="8.7" fill="#222" text-anchor="end" textLength="12.30" lengthAdjust="spacingAndGlyphs">100</text>
<line x1="602.3" y1="358.30" x2="605.5" y2="358.30" stroke="#222" stroke-width="0.8"/>
<text x="598.60" y="361.20" font-size="8.7" fill="#222" text-anchor="end" textLength="8.20" lengthAdjust="spacingAndGlyphs">80</text>
<line x1="602.3" y1="384.30" x2="605.5" y2="384.30" stroke="#222" stroke-width="0.8"/>
<text x="598.60" y="387.20" font-size="8.7" fill="#222" text-anchor="end" textLength="8.20" lengthAdjust="spacingAndGlyphs">60</text>
<line x1="602.3" y1="410.30" x2="605.5" y2="410.30" stroke="#222" stroke-width="0.8"/>
<text x="598.60" y="413.20" font-size="8.7" fill="#222" text-anchor="end" textLength="8.20" lengthAdjust="spacingAndGlyphs">40</text>
<line x1="602.3" y1="436.30" x2="605.5" y2="436.30" stroke="#222" stroke-width="0.8"/>
<text x="598.60" y="439.20" font-size="8.7" fill="#222" text-anchor="end" textLength="8.20" lengthAdjust="spacingAndGlyphs">20</text>
<line x1="602.3" y1="462.30" x2="605.5" y2="462.30" stroke="#222" stroke-width="0.8"/>
<text x="598.60" y="465.20" font-size="8.7" fill="#222" text-anchor="end" textLength="4.10" lengthAdjust="spacingAndGlyphs">0</text>
<line x1="610.00" y1="465.75" x2="610.00" y2="468.75" stroke="#222" stroke-width="0.8"/>
<text x="610.00" y="478.45" font-size="8.8" fill="#222" text-anchor="middle" textLength="4.10" lengthAdjust="spacingAndGlyphs">0</text>
<line x1="640.20" y1="465.75" x2="640.20" y2="468.75" stroke="#222" stroke-width="0.8"/>
<text x="640.20" y="478.45" font-size="8.8" fill="#222" text-anchor="middle" textLength="4.10" lengthAdjust="spacingAndGlyphs">3</text>
<line x1="670.40" y1="465.75" x2="670.40" y2="468.75" stroke="#222" stroke-width="0.8"/>
<text x="670.40" y="478.45" font-size="8.8" fill="#222" text-anchor="middle" textLength="4.10" lengthAdjust="spacingAndGlyphs">6</text>
<line x1="700.60" y1="465.75" x2="700.60" y2="468.75" stroke="#222" stroke-width="0.8"/>
<text x="700.60" y="478.45" font-size="8.8" fill="#222" text-anchor="middle" textLength="4.10" lengthAdjust="spacingAndGlyphs">9</text>
<line x1="730.80" y1="465.75" x2="730.80" y2="468.75" stroke="#222" stroke-width="0.8"/>
<text x="730.80" y="478.45" font-size="8.8" fill="#222" text-anchor="middle" textLength="8.20" lengthAdjust="spacingAndGlyphs">12</text>
<line x1="791.21" y1="465.75" x2="791.21" y2="468.75" stroke="#222" stroke-width="0.8"/>
<text x="791.21" y="478.45" font-size="8.8" fill="#222" text-anchor="middle" textLength="8.20" lengthAdjust="spacingAndGlyphs">18</text>
<line x1="851.61" y1="465.75" x2="851.61" y2="468.75" stroke="#222" stroke-width="0.8"/>
<text x="851.61" y="478.45" font-size="8.8" fill="#222" text-anchor="middle" textLength="8.20" lengthAdjust="spacingAndGlyphs">24</text>
<line x1="912.01" y1="465.75" x2="912.01" y2="468.75" stroke="#222" stroke-width="0.8"/>
<text x="912.01" y="478.45" font-size="8.8" fill="#222" text-anchor="middle" textLength="8.20" lengthAdjust="spacingAndGlyphs">30</text>
<line x1="972.41" y1="465.75" x2="972.41" y2="468.75" stroke="#222" stroke-width="0.8"/>
<text x="972.41" y="478.45" font-size="8.8" fill="#222" text-anchor="middle" textLength="8.20" lengthAdjust="spacingAndGlyphs">36</text>
<text x="775.50" y="489.95" font-size="8.7" fill="#111" font-weight="bold" textLength="35.50" lengthAdjust="spacingAndGlyphs">Time (mo)</text>
<text transform="translate(579.4,397.4) rotate(-90)" text-anchor="middle" font-size="9.8" font-weight="bold" fill="#111" textLength="36.5" lengthAdjust="spacingAndGlyphs">PFS (%)</text>
<line x1="605.5" y1="397.5" x2="972.5" y2="397.5" stroke="#111" stroke-width="0.7" stroke-dasharray="2,1.2"/>
<line x1="731.7" y1="370.5" x2="731.7" y2="465.75" stroke="#111" stroke-width="0.7" stroke-dasharray="2,1.2"/>
<line x1="792" y1="383.3" x2="792" y2="465.75" stroke="#111" stroke-width="0.7" stroke-dasharray="2,1.2"/>
<path d="M610,332.3 H614.3 V335.1 H622.4 V339.7 H636.6 V344.6 L640,349.3 H653.6 V352.4 H663.9 L665.9,357 H684.4 V360.4 H692.5 V362.4 H706.2 V365.1 H727.5 L731.7,370.5 H745.8 L750.4,376.2 H766.6 L772.75,383.2 H832.4 V393.2 H929.3" fill="none" stroke="#A0509A" stroke-width="0.9"/>
<circle cx="623.8" cy="339.5" r="1.8" fill="#8E2C88"/>
<circle cx="636.9" cy="344.2" r="1.8" fill="#8E2C88"/>
<circle cx="667.7" cy="357" r="1.8" fill="#8E2C88"/>
<circle cx="708.3" cy="365.0" r="1.8" fill="#8E2C88"/>
<circle cx="727.5" cy="364.7" r="1.8" fill="#8E2C88"/>
<circle cx="729" cy="367" r="1.8" fill="#8E2C88"/>
<circle cx="730.6" cy="369.6" r="1.8" fill="#8E2C88"/>
<circle cx="747.3" cy="373.2" r="1.8" fill="#8E2C88"/>
<circle cx="749.6" cy="375.5" r="1.8" fill="#8E2C88"/>
<circle cx="751.2" cy="376.2" r="1.8" fill="#8E2C88"/>
<circle cx="767.4" cy="375.2" r="1.8" fill="#8E2C88"/>
<circle cx="769.7" cy="378.5" r="1.8" fill="#8E2C88"/>
<circle cx="771.2" cy="380.9" r="1.8" fill="#8E2C88"/>
<circle cx="772.4" cy="383.2" r="1.8" fill="#8E2C88"/>
<circle cx="790.8" cy="383" r="1.8" fill="#8E2C88"/>
<circle cx="793.9" cy="383" r="1.8" fill="#8E2C88"/>
<circle cx="818.7" cy="383" r="1.8" fill="#8E2C88"/>
<circle cx="828.2" cy="383" r="1.8" fill="#8E2C88"/>
<circle cx="830.5" cy="383" r="1.8" fill="#8E2C88"/>
<circle cx="847.5" cy="393.1" r="1.8" fill="#8E2C88"/>
<circle cx="859.3" cy="393.1" r="1.8" fill="#8E2C88"/>
<circle cx="872.6" cy="393.1" r="1.8" fill="#8E2C88"/>
<circle cx="874.8" cy="393.1" r="1.8" fill="#8E2C88"/>
<circle cx="929.3" cy="393.1" r="1.8" fill="#8E2C88"/>
<text x="732.90" y="363.90" font-size="15.0" fill="#8F2A88" font-weight="bold" textLength="27.10" lengthAdjust="spacingAndGlyphs">73%</text>
<text x="779.20" y="376.00" font-size="15.0" fill="#8F2A88" font-weight="bold" textLength="27.00" lengthAdjust="spacingAndGlyphs">61%</text>
<text x="836.50" y="353.00" font-size="16.6" fill="#8F2A88" font-weight="bold" textLength="123.70" lengthAdjust="spacingAndGlyphs">Median PFS: NR</text>
<text x="835.70" y="369.90" font-size="13.6" fill="#9A4A96" textLength="125.20" lengthAdjust="spacingAndGlyphs">(95% CI: 15.9 mo–NR)</text>
<text x="616.00" y="454.80" font-size="12.9" fill="#333" textLength="96.50" lengthAdjust="spacingAndGlyphs">Events: 20 (37.0%)</text>
<text x="560.00" y="499.60" font-size="8.8" fill="#111" font-weight="bold" textLength="34.50" lengthAdjust="spacingAndGlyphs">No. at risk</text>
<text x="609.00" y="499.90" font-size="8.8" fill="#9B3C94" text-anchor="middle" textLength="8.20" lengthAdjust="spacingAndGlyphs">54</text>
<text x="640.20" y="499.90" font-size="8.8" fill="#9B3C94" text-anchor="middle" textLength="8.20" lengthAdjust="spacingAndGlyphs">45</text>
<text x="670.40" y="499.90" font-size="8.8" fill="#9B3C94" text-anchor="middle" textLength="8.20" lengthAdjust="spacingAndGlyphs">41</text>
<text x="700.60" y="499.90" font-size="8.8" fill="#9B3C94" text-anchor="middle" textLength="8.20" lengthAdjust="spacingAndGlyphs">39</text>
<text x="730.80" y="499.90" font-size="8.8" fill="#9B3C94" text-anchor="middle" textLength="8.20" lengthAdjust="spacingAndGlyphs">34</text>
<text x="791.21" y="501.70" font-size="8.8" fill="#9B3C94" text-anchor="middle" textLength="8.20" lengthAdjust="spacingAndGlyphs">16</text>
<text x="851.61" y="499.90" font-size="8.8" fill="#9B3C94" text-anchor="middle" textLength="4.10" lengthAdjust="spacingAndGlyphs">5</text>
<text x="912.01" y="499.90" font-size="8.8" fill="#9B3C94" text-anchor="middle" textLength="4.10" lengthAdjust="spacingAndGlyphs">1</text>
<text x="972.41" y="499.90" font-size="8.8" fill="#9B3C94" text-anchor="middle" textLength="4.10" lengthAdjust="spacingAndGlyphs">0</text>
<text y="513.5" font-size="8.9" fill="#1a1a1a"><tspan x="33.6" textLength="115.0" lengthAdjust="spacingAndGlyphs" font-weight="bold">Data cutoff: October 28, 2024.</tspan><tspan x="152.4" textLength="105.0" lengthAdjust="spacingAndGlyphs">BOR, best overall response;</tspan><tspan x="258.0" textLength="87.2" lengthAdjust="spacingAndGlyphs">CI, confidence interval;</tspan><tspan x="348.7" textLength="88.6" lengthAdjust="spacingAndGlyphs">CR, complete response;</tspan><tspan x="440.6" textLength="46.9" lengthAdjust="spacingAndGlyphs">mo, months;</tspan><tspan x="490.7" textLength="63.5" lengthAdjust="spacingAndGlyphs">NE, not evaluable;</tspan><tspan x="559.2" textLength="61.8" lengthAdjust="spacingAndGlyphs">NR, not reached;</tspan><tspan x="624.2" textLength="90.6" lengthAdjust="spacingAndGlyphs">PD, progressive disease;</tspan><tspan x="718.7" textLength="76.1" lengthAdjust="spacingAndGlyphs">PR, partial response;</tspan><tspan x="798.7" textLength="70.1" lengthAdjust="spacingAndGlyphs">SD, stable disease.</tspan></text>
<text y="524.1" font-size="8.9" fill="#1a1a1a"><tspan x="33.6" dy="-2.7" font-size="5.2">a</tspan><tspan dy="2.7" font-size="1"> </tspan><tspan x="36.8" textLength="152.0" lengthAdjust="spacingAndGlyphs">Response evaluable population includes</tspan><tspan x="190.9" textLength="138.7" lengthAdjust="spacingAndGlyphs">patients with ≥1 measurable lesion at</tspan><tspan x="332.3" textLength="180.6" lengthAdjust="spacingAndGlyphs">baseline who received ≥1 dose of taletrectinib.</tspan><tspan x="514.6" dy="-2.7" font-size="5.2">b</tspan><tspan dy="2.7" font-size="1"> </tspan><tspan x="518.2" textLength="238.0" lengthAdjust="spacingAndGlyphs">One patient with cBOR of NE is not shown in the waterfall plot.</tspan><tspan x="757.8" dy="-2.7" font-size="5.2">c</tspan><tspan dy="2.7" font-size="1"> </tspan><tspan x="761.9" textLength="155.7" lengthAdjust="spacingAndGlyphs">TTR and DOR reported in responders only.</tspan></text>
<text y="534.8" font-size="8.9" fill="#1a1a1a"><tspan x="33.4" dy="-2.7" font-size="5.2">d</tspan><tspan dy="2.7" font-size="1"> </tspan><tspan x="36.8" textLength="218.2" lengthAdjust="spacingAndGlyphs">Patients with ≥1 measurable brain metastasis at baseline.</tspan><tspan x="256.0" textLength="241.9" lengthAdjust="spacingAndGlyphs">*One patient with cBOR of SD had a best percent change of 0%.</tspan></text>
<path d="M0,542.4 H647.2 A15.55,15.55 0 0 1 647.2,573.5 H0 Z" fill="#17457C"/>
<path d="M1039,542.4 H867.4 A15.55,15.55 0 0 0 867.4,573.5 H1039 Z" fill="#17457C"/>
<text y="560.8" font-size="11.3" fill="#eef2f8"><tspan x="17.0" textLength="153.6" lengthAdjust="spacingAndGlyphs">Updated Efficacy and Safety of</tspan><tspan x="173.2" textLength="146.2" lengthAdjust="spacingAndGlyphs">Taletrectinib in Patients With</tspan><tspan x="322.9" textLength="144.1" lengthAdjust="spacingAndGlyphs">ROS1+ Non-small Cell Lung</tspan><tspan x="469.8" textLength="170.5" lengthAdjust="spacingAndGlyphs">Cancer: The Global TRUST-II Study</tspan></text>
<text x="703.50" y="563.20" font-size="17" fill="#1D4A7E" font-weight="bold" textLength="104.80" lengthAdjust="spacingAndGlyphs">wclc.iaslc.org</text>
<text x="874.00" y="560.80" font-size="11.3" fill="#eef2f8" textLength="128.00" lengthAdjust="spacingAndGlyphs">Presented by Geoffrey Liu</text>
</svg>
</body>
</html>
